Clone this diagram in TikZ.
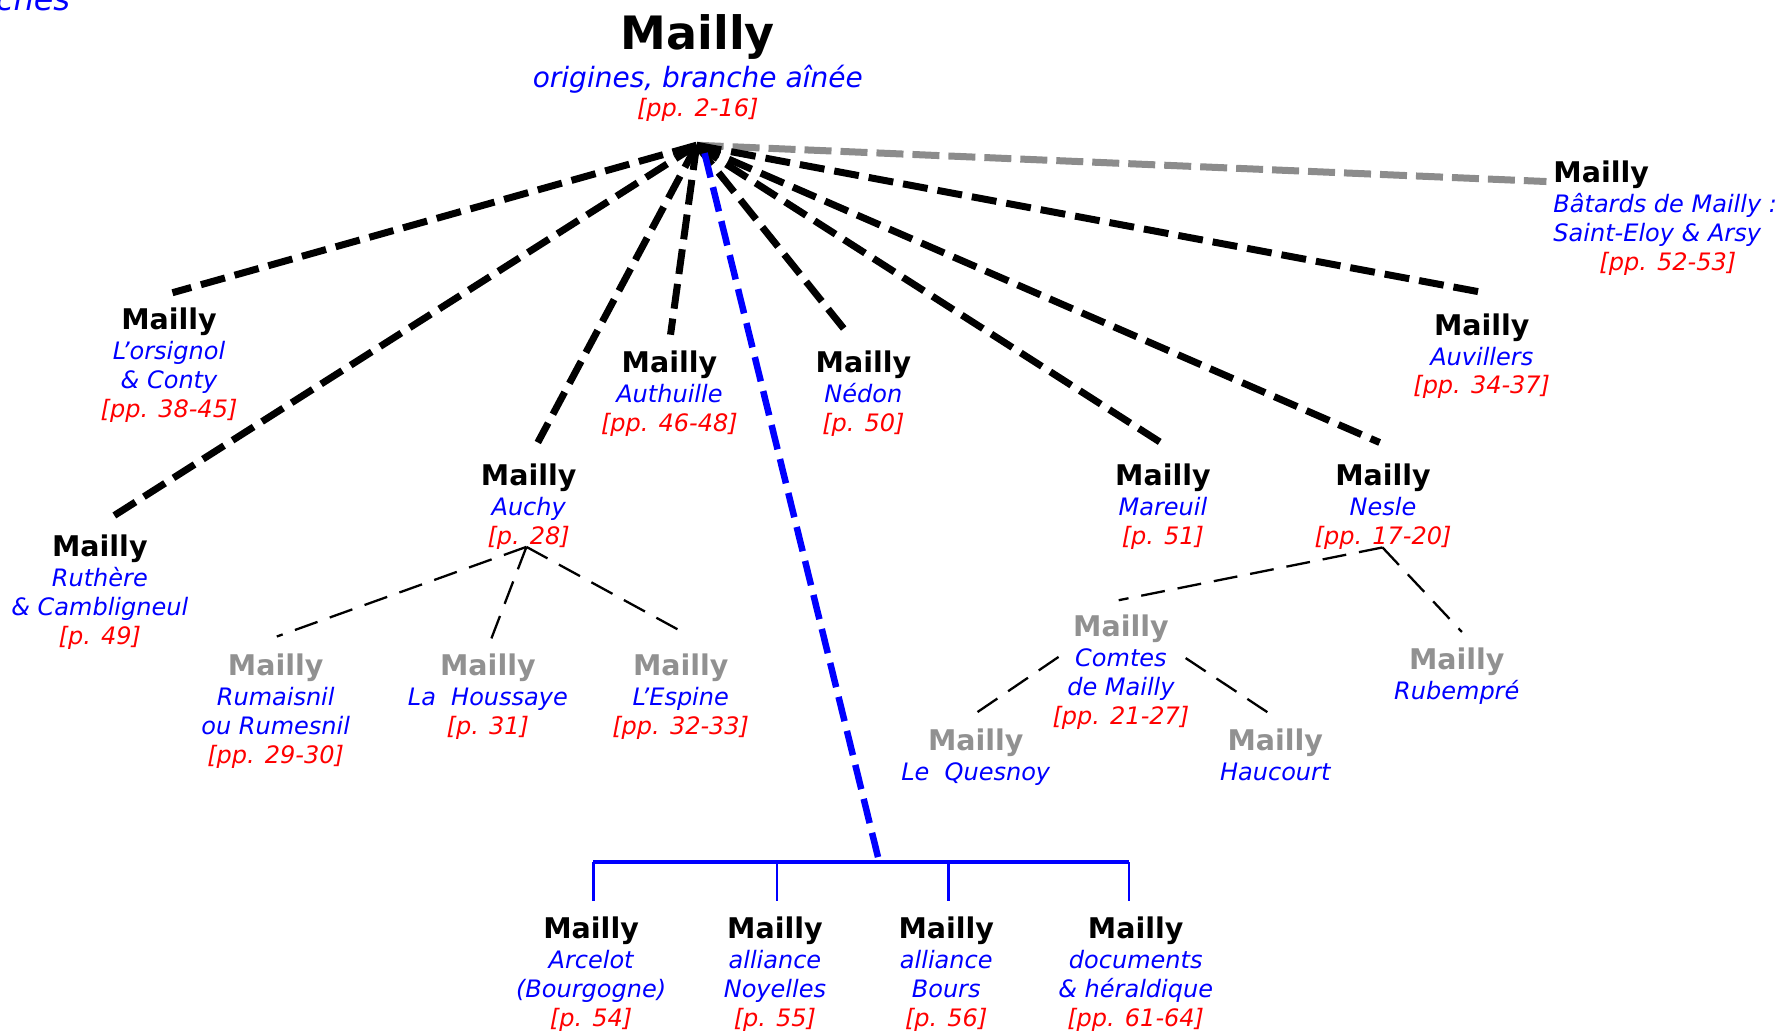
\documentclass[tikz,border=0pt]{standalone}
\usepackage{fontspec}
\setmainfont{DejaVu Sans}
\usetikzlibrary{calc}
\definecolor{mgray}{RGB}{145,145,145}
\definecolor{lgray}{RGB}{140,140,140}
\definecolor{mblue}{RGB}{0,0,255}
\definecolor{mred}{RGB}{255,0,0}
\newcommand\Mt{{\fontsize{28.5}{29}\selectfont\bfseries Mailly}}
\newcommand\Mg{{\fontsize{28.5}{29}\selectfont\bfseries\color{mgray}Mailly}}
\newcommand\Sb[1]{{\color{mblue}\itshape #1}}
\newcommand\Rf[1]{{\color{mred}\itshape #1}}
\tikzset{
  fam/.style={inner sep=0pt, align=center, anchor=north, font=\fontsize{24}{29}\selectfont},
  bigdash/.style={line width=7pt, dash pattern=on 25pt off 10pt},
  graydash/.style={line width=7pt, lgray, dash pattern=on 27pt off 9pt},
  bluedash/.style={line width=6.5pt, mblue, dash pattern=on 25pt off 10pt},
  thindash/.style={line width=2.3pt, dash pattern=on 24pt off 13pt},
  barline/.style={line width=4pt, mblue},
  dropline/.style={line width=2.5pt, mblue},
}
\begin{document}
\begin{tikzpicture}[x=1.1346pt, y=-1.1346pt]
\useasboundingbox (0,0) rectangle (1568,910);

% corner fragment
\node[anchor=base east, inner sep=0pt, font=\fontsize{32}{32}\selectfont\itshape, text=mblue] (corner) at (62,9.5) {ches};

% top node
\node[fam] (top) at (615,13) {{\fontsize{46}{46}\selectfont\bfseries Mailly}\\[4pt]
  {\fontsize{28}{34}\selectfont\Sb{origines, branche aînée}}\\[0pt]
  \Rf{[pp. 2-16]}};

% first level
\node[fam] (lor) at (149,271) {\Mt\\[1pt] \Sb{L’orsignol}\\ \Sb{\& Conty}\\ \Rf{[pp. 38-45]}};
\node[fam] (ruth) at (88,471) {\Mt\\[1pt] \Sb{Ruthère}\\ \Sb{\& Cambligneul}\\ \Rf{[p. 49]}};
\node[fam] (auchy) at (466,409) {\Mt\\[1pt] \Sb{Auchy}\\ \Rf{[p. 28]}};
\node[fam] (auth) at (590,309) {\Mt\\[1pt] \Sb{Authuille}\\ \Rf{[pp. 46-48]}};
\node[fam] (nedon) at (761,309) {\Mt\\[1pt] \Sb{Nédon}\\ \Rf{[p. 50]}};
\node[fam] (mareuil) at (1025,409) {\Mt\\[1pt] \Sb{Mareuil}\\ \Rf{[p. 51]}};
\node[fam] (nesle) at (1219,409) {\Mt\\[1pt] \Sb{Nesle}\\ \Rf{[pp. 17-20]}};
\node[fam] (auv) at (1306,276) {\Mt\\[1pt] \Sb{Auvillers}\\ \Rf{[pp. 34-37]}};
\node[fam, align=left, anchor=north west] (bat) at (1369,142) {\Mt\\[1pt] \Sb{Bâtards de Mailly :}\\ \Sb{Saint-Eloy \& Arsy}\\ \hspace*{46pt}\Rf{[pp. 52-53]}};

% gray sub-branches
\node[fam] (rum) at (243,576) {\Mg\\[1pt] \Sb{Rumaisnil}\\ \Sb{ou Rumesnil}\\ \Rf{[pp. 29-30]}};
\node[fam] (hous) at (430,576) {\Mg\\[1pt] \Sb{La\ \ Houssaye}\\ \Rf{[p. 31]}};
\node[fam] (esp) at (600,576) {\Mg\\[1pt] \Sb{L’Espine}\\ \Rf{[pp. 32-33]}};
\node[fam] (comtes) at (988,542) {\Mg\\[1pt] \Sb{Comtes}\\ \Sb{de Mailly}\\ \Rf{[pp. 21-27]}};
\node[fam] (rub) at (1284,571) {\Mg\\[1pt] \Sb{Rubempré}};
\node[fam] (ques) at (860,642) {\Mg\\[1pt] \Sb{Le\ \ Quesnoy}};
\node[fam] (hau) at (1124,642) {\Mg\\[1pt] \Sb{Haucourt}};

% bottom row
\node[fam] (arc) at (521,808) {\Mt\\[1pt] \Sb{Arcelot}\\ \Sb{(Bourgogne)}\\ \Rf{[p. 54]}};
\node[fam] (noy) at (683,808) {\Mt\\[1pt] \Sb{alliance}\\ \Sb{Noyelles}\\ \Rf{[p. 55]}};
\node[fam] (bours) at (834,808) {\Mt\\[1pt] \Sb{alliance}\\ \Sb{Bours}\\ \Rf{[p. 56]}};
\node[fam] (docs) at (1001,808) {\Mt\\[1pt] \Sb{documents}\\ \Sb{\& héraldique}\\ \Rf{[pp. 61-64]}};

% connector coordinates
\coordinate (apex) at (614,128);
\coordinate (bluestart) at (621,135);
\coordinate (lor-in) at (152,258);
\coordinate (ruth-in) at (95,458);
\coordinate (auchy-in) at (474,390);
\coordinate (auth-in) at (591,295);
\coordinate (nedon-in) at (748,295);
\coordinate (mareuil-in) at (1023,390);
\coordinate (nesle-in) at (1216,390);
\coordinate (auv-in) at (1308,258);
\coordinate (bat-in) at (1363,160);

\coordinate (auchy-out) at (464,482);
\coordinate (rum-in) at (244,561);
\coordinate (hous-in) at (433,563);
\coordinate (esp-in) at (607,560);
\coordinate (nesle-out) at (1218.5,482.5);
\coordinate (comtes-in) at (986,529);
\coordinate (rub-in) at (1288.5,557);
\coordinate (comtes-l) at (933,579);
\coordinate (ques-in) at (858,630);
\coordinate (comtes-r) at (1045,580);
\coordinate (hau-in) at (1119,629);

\coordinate (join) at (775,760);
\coordinate (bar-l) at (523,760);
\coordinate (bar-r) at (995,760);
\coordinate (arc-in) at (523,794);
\coordinate (noy-t) at (685,760);
\coordinate (noy-in) at (685,794);
\coordinate (bours-t) at (836,760);
\coordinate (bours-in) at (836,794);
\coordinate (docs-in) at (995,794);

% thin dashed
\draw[thindash] (auchy-out) -- (rum-in);
\draw[thindash] (auchy-out) -- (hous-in);
\draw[thindash] (auchy-out) -- (esp-in);
\draw[thindash] (nesle-out) -- (comtes-in);
\draw[thindash] (nesle-out) -- (rub-in);
\draw[thindash] (comtes-l) -- (ques-in);
\draw[thindash] (comtes-r) -- (hau-in);

% main connectors
\draw[graydash] (apex) -- (bat-in);
\foreach \t in {lor,ruth,auchy,auth,nedon,mareuil,nesle,auv}
  \draw[bigdash] (apex) -- (\t-in);
\draw[bluedash] (bluestart) -- (join);

% bottom bar
\draw[barline] (bar-l) -- (bar-r);
\draw[dropline] (bar-l) -- (arc-in);
\draw[dropline] (noy-t) -- (noy-in);
\draw[dropline] (bours-t) -- (bours-in);
\draw[dropline] (bar-r) -- (docs-in);
\end{tikzpicture}
\end{document}
